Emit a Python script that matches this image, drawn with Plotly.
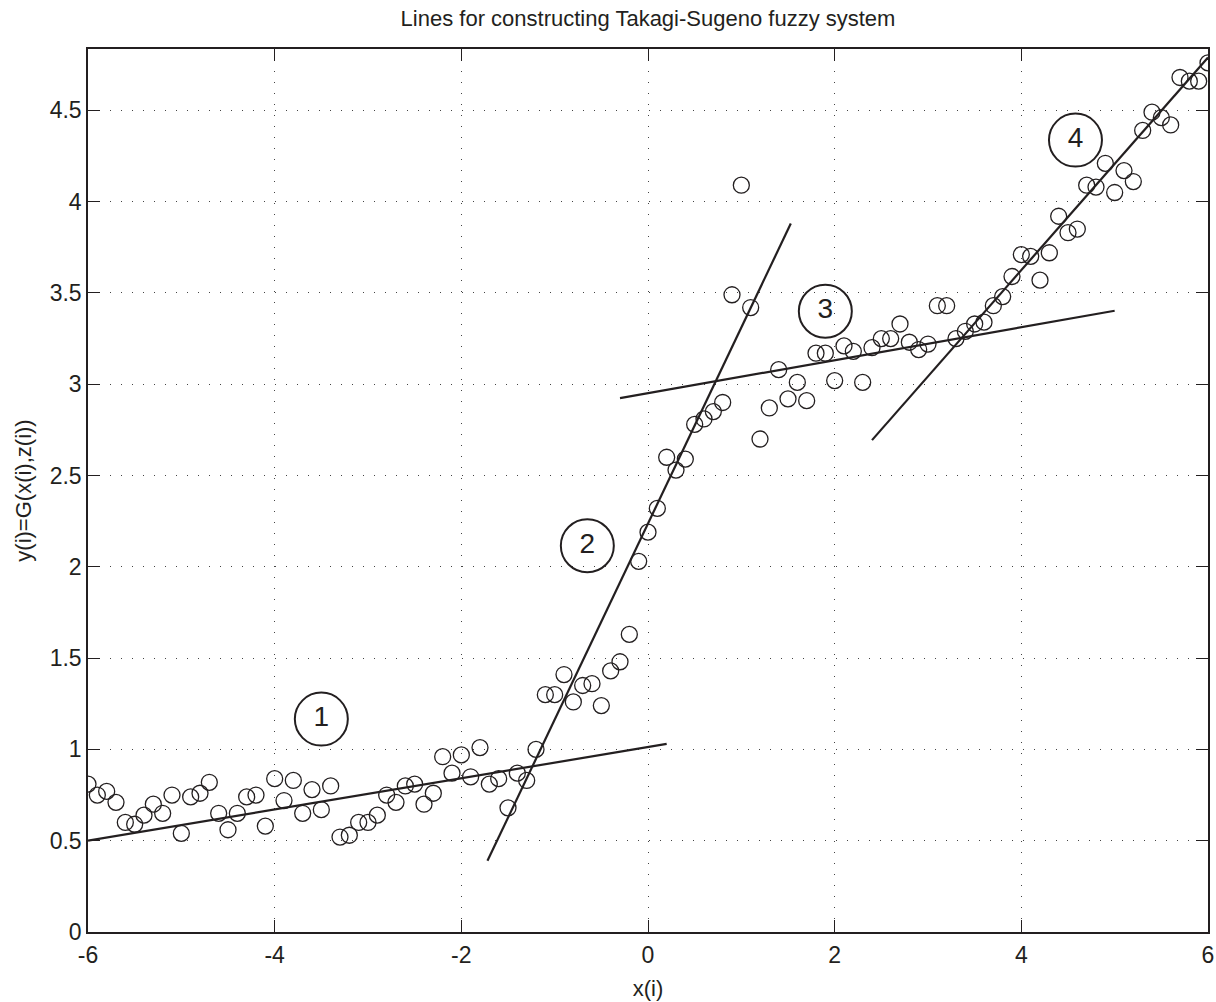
import numpy as np
import plotly.graph_objects as go

# ---- data ----
x_vals = np.round(np.linspace(-6, 6, 121), 1)
y_vals = [
    0.81, 0.75, 0.77, 0.71, 0.60, 0.59, 0.64, 0.70, 0.65, 0.75,
    0.54, 0.74, 0.76, 0.82, 0.65, 0.56, 0.65, 0.74, 0.75, 0.58,
    0.84, 0.72, 0.83, 0.65, 0.78, 0.67, 0.80, 0.52, 0.53, 0.60,
    0.60, 0.64, 0.75, 0.71, 0.80, 0.81, 0.70, 0.76, 0.96, 0.87,
    0.97, 0.85, 1.01, 0.81, 0.84, 0.68, 0.87, 0.83, 1.00, 1.30,
    1.30, 1.41, 1.26, 1.35, 1.36, 1.24, 1.43, 1.48, 1.63, 2.03,
    2.19, 2.32, 2.60, 2.53, 2.59, 2.78, 2.81, 2.85, 2.90, 3.49,
    4.09, 3.42, 2.70, 2.87, 3.08, 2.92, 3.01, 2.91, 3.17, 3.17,
    3.02, 3.21, 3.18, 3.01, 3.20, 3.25, 3.25, 3.33, 3.23, 3.19,
    3.22, 3.43, 3.43, 3.25, 3.29, 3.33, 3.34, 3.43, 3.48, 3.59,
    3.71, 3.70, 3.57, 3.72, 3.92, 3.83, 3.85, 4.09, 4.08, 4.21,
    4.05, 4.17, 4.11, 4.39, 4.49, 4.46, 4.42, 4.68, 4.66, 4.66,
    4.76,
]

# local linear models (y = intercept + slope * x) on x ranges
line_x_start = [-6.0, -1.72, -0.30, 2.40]
line_x_end = [0.20, 1.53, 5.00, 6.00]
line_slope = [0.0855, 1.074, 0.0903, 0.582]
line_intercept = [1.013, 2.237, 2.951, 1.297]

# rule labels
label_text = ["1", "2", "3", "4"]
label_x = [-3.5, -0.65, 1.90, 4.58]
label_y = [1.166, 2.115, 3.40, 4.337]

x_ticks = [-6, -4, -2, 0, 2, 4, 6]
y_ticks = [0, 0.5, 1, 1.5, 2, 2.5, 3, 3.5, 4, 4.5]

INK = "#231f20"
FONT = "Liberation Sans, Arial, Helvetica, sans-serif"
W, H = 1216, 1002

fig = go.Figure()

fig.add_trace(go.Scatter(
    x=x_vals, y=y_vals, mode="markers",
    marker=dict(symbol="circle-open", size=16, color=INK, line=dict(width=1.3, color=INK)),
    showlegend=False, hoverinfo="skip",
))

for xs, xe, m, b in zip(line_x_start, line_x_end, line_slope, line_intercept):
    fig.add_trace(go.Scatter(
        x=[xs, xe], y=[b + m * xs, b + m * xe], mode="lines",
        line=dict(color=INK, width=2.2), showlegend=False, hoverinfo="skip",
    ))

fig.add_trace(go.Scatter(
    x=label_x, y=label_y, mode="markers+text", text=label_text,
    textposition="middle center",
    textfont=dict(family=FONT, size=28, color=INK),
    marker=dict(symbol="circle-open", size=53, color=INK, line=dict(width=2, color=INK)),
    showlegend=False, hoverinfo="skip",
))

axis_common = dict(
    showline=True, linecolor=INK, linewidth=1.5, mirror="ticks",
    ticks="inside", ticklen=12, tickwidth=1, tickcolor=INK,
    showgrid=True, gridcolor="#444444", gridwidth=1, griddash="1px,10px",
    zeroline=False, automargin=False,
    tickfont=dict(family=FONT, size=23, color=INK),
)

fig.update_xaxes(
    range=[-6, 6], tickvals=x_ticks, ticktext=[str(v) for v in x_ticks],
    ticklabelstandoff=2,
    title=dict(text="x(i)", font=dict(family=FONT, size=22, color=INK), standoff=13),
    **axis_common,
)
fig.update_yaxes(
    range=[0, 4.836], tickvals=y_ticks, ticktext=[f"{v:g}" for v in y_ticks],
    ticklabelstandoff=0,
    title=dict(text="y(i)=G(x(i),z(i))", font=dict(family=FONT, size=22, color=INK), standoff=12),
    **axis_common,
)

fig.update_layout(
    width=W, height=H,
    margin=dict(l=88, r=8, t=49, b=70),
    paper_bgcolor="white", plot_bgcolor="white",
    title=dict(text="Lines for constructing Takagi-Sugeno fuzzy system",
               font=dict(family=FONT, size=22, color=INK),
               x=648 / W, xanchor="center", y=1 - 18 / H, yanchor="middle",
               xref="container", yref="container"),
)

fig.write_html(
    "out.html",
    config={"displayModeBar": False},
    post_script="document.body.style.margin='0';document.body.style.overflow='hidden';",
)
